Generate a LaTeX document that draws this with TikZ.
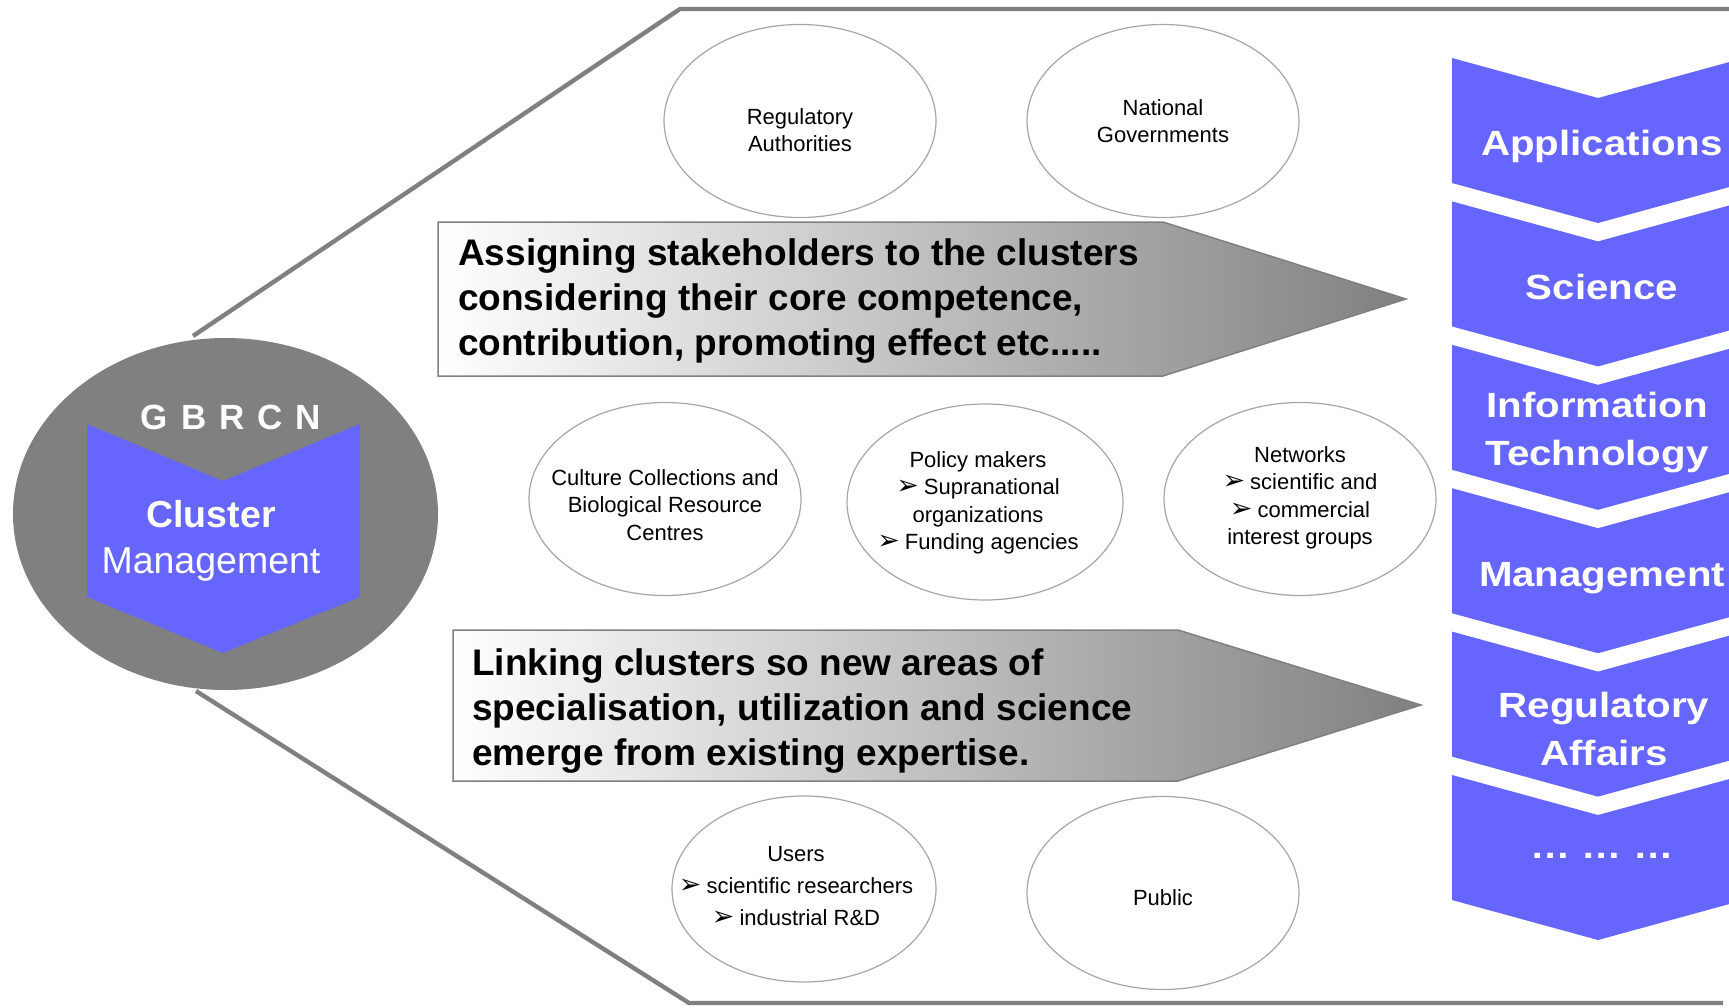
\documentclass[tikz,border=0pt]{standalone}
\usepackage{fontspec}
\setmainfont{Liberation Sans}
\newfontfamily\chevfont[FakeStretch=1.15]{Liberation Sans}
\newfontfamily\bulletfont{DejaVu Sans}
\usetikzlibrary{shapes.geometric}
\pgfdeclarelayer{bg}
\pgfsetlayers{bg,main}
\definecolor{chevblue}{HTML}{6666FF}
\definecolor{hubgray}{HTML}{808080}
\definecolor{rimgray}{HTML}{A6A6A6}
\newcommand{\bul}{{\bulletfont\fontsize{27}{27}\selectfont ➢}\kern5pt}

\tikzset{
        stake/.style={ellipse, draw=rimgray, line width=1.2pt, fill=white,
                minimum width=272pt, minimum height=193pt, inner sep=0pt},
        staketext/.style={align=center, inner sep=0pt, font=\fontsize{22}{27.5}\selectfont},
        pushbox/.style={draw=hubgray, line width=1.5pt, left color=white, right color=hubgray},
        pushtext/.style={anchor=west, align=left, inner sep=0pt, font=\bfseries\fontsize{37}{45}\selectfont},
        chev/.style={fill=chevblue},
        chevtext/.style={text=white, align=center, inner sep=0pt, font=\chevfont\bfseries\fontsize{35}{48}\selectfont},
}

\begin{document}
\begin{tikzpicture}[x=1pt, y=-1pt]
        \useasboundingbox (0,0) rectangle (1729,1007);
        \clip (0,0) rectangle (1729,1007);
        % funnel frame
        \begin{pgfonlayer}{bg}
                \draw [hubgray, line width=4.4pt] (193,336) -- (680,9) -- (1729,9);
                \draw [hubgray, line width=4.4pt] (196,691) -- (689,1003) -- (1723,1003);
        \end{pgfonlayer}
        % cluster management hub
        \node (hub) [ellipse, fill=hubgray, minimum width=425pt, minimum height=352pt] at (225.5,514) {};
        \fill [chev] (87,424) -- (223,481) -- (360,424) -- (360,597) -- (223,653) -- (87,597) -- cycle;
        \node (gbrcn) [text=white, inner sep=0pt, font=\bfseries\fontsize{35}{35}\selectfont] at (231,417)
                {G\kern13pt B\kern13pt R\kern13pt C\kern13pt N};
        \node (hubtxt) [text=white, align=center, inner sep=0pt, font=\fontsize{37.5}{46}\selectfont] at (211,541)
                {\textbf{Cluster}\\Management};
        % stakeholders
        \node (regauth) [stake] at (800,121) {};
        \node (regauthtxt) [staketext] at (800,130) {Regulatory\\Authorities};
        \node (natgov) [stake] at (1163,121) {};
        \node (natgovtxt) [staketext] at (1163,121) {National\\Governments};
        \node (brc) [stake] at (665,499) {};
        \node (brctxt) [staketext] at (665,505) {Culture Collections and\\Biological Resource\\Centres};
        \node (policy) [stake, minimum width=276pt, minimum height=196pt] at (985,502) {};
        \node (policytxt) [staketext] at (978,503) {Policy makers\\\bul Supranational\\organizations\\\bul Funding agencies};
        \node (netw) [stake] at (1300,499) {};
        \node (netwtxt) [staketext] at (1300,498) {Networks\\\bul scientific and\\\bul commercial\\interest groups};
        \node (users) [stake, minimum width=264pt, minimum height=186pt] at (804,889) {};
        \node (userstxt) [staketext, font=\fontsize{22}{32}\selectfont] at (796,886) {Users\\\bul scientific researchers\\\bul industrial R\&D};
        \node (public) [stake] at (1163,893) {};
        \node (publictxt) [staketext] at (1163,898) {Public};
        % arrows
        \path [pushbox] (438,222) -- (1163,222) -- (1406,299) -- (1163,376) -- (438,376) -- cycle;
        \node (assign) [pushtext] at (458,301) {Assigning stakeholders to the clusters\\considering their core competence,\\contribution, promoting effect etc.....};
        \path [pushbox] (453,630) -- (1178,630) -- (1421,705) -- (1178,781) -- (453,781) -- cycle;
        \node (link) [pushtext] at (472,711) {Linking clusters so new areas of\\specialisation, utilization and science\\emerge from existing expertise.};
        % cluster column
        \foreach \i in {0,...,5} {
                \pgfmathsetmacro\cy{58+143.4*\i}
                \fill [chev] (1452,\cy) -- ++(146,40) -- ++(146,-40) -- ++(0,125) -- ++(-146,40) -- ++(-146,-40) -- cycle;
        }
        \node (apps) [chevtext] at (1602,146) {Applications};
        \node (sci) [chevtext] at (1602,287) {Science};
        \node (infotech) [chevtext] at (1597,433) {Information\\Technology};
        \node (manage) [chevtext] at (1602,578) {Management};
        \node (regaff) [chevtext] at (1604,729) {Regulatory\\Affairs};
        \node (more) [chevtext] at (1602,856) {… … …};
\end{tikzpicture}
\end{document}
